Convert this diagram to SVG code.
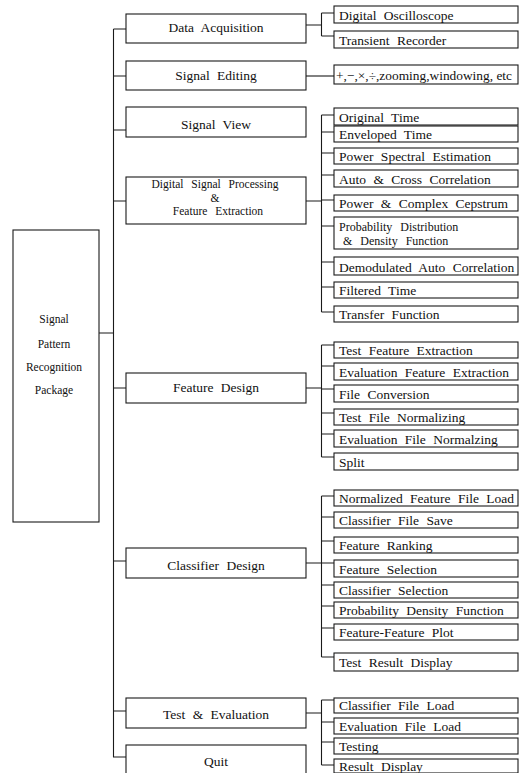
<svg xmlns="http://www.w3.org/2000/svg" width="523" height="773" viewBox="0 0 523 773">
<style>
rect{fill:#fff;stroke:#1a1a1a;stroke-width:1.1}
text{font-family:"Liberation Serif","Times New Roman",serif;fill:#111;font-size:13.5px;word-spacing:4px}
.m{text-anchor:middle}
.l{font-size:11.5px;word-spacing:0}
.s{font-size:11.5px;word-spacing:5px}
.p{font-size:12px;word-spacing:5px}
#connectors path{fill:none;stroke:#1a1a1a;stroke-width:1.1}
</style>
<rect width="523" height="773" style="fill:#fff;stroke:none"/>
<g id="connectors">
<path d="M113.5,29V757H126M113.5,29H126M113.5,76H126M113.5,130H126M113.5,201H126M113.5,388H126M113.5,561H126M113.5,711H126M99,333H113.5"/>
<path d="M306,25H321.5M321.5,13V36M321.5,13H334M321.5,36H334"/>
<path d="M306,76H334"/>
<path d="M306,201H321.5M321.5,115V312M321.5,115H334M321.5,132H334M321.5,153H334M321.5,175H334M321.5,200H334M321.5,226H334M321.5,262H334M321.5,287H334M321.5,312H334"/>
<path d="M306,388H321.5M321.5,345V457M321.5,345H334M321.5,366H334M321.5,389H334M321.5,413H334M321.5,434H334M321.5,457H334"/>
<path d="M306,563H321.5M321.5,496V657M321.5,496H334M321.5,517H334M321.5,541H334M321.5,563H334M321.5,585H334M321.5,606H334M321.5,628H334M321.5,657H334"/>
<path d="M306,713H321.5M321.5,700V765M321.5,700H334M321.5,722H334M321.5,742H334M321.5,765H334"/>
</g>
<g id="root"><rect x="13" y="230" width="86" height="292"/>
<text class="m l" x="54" y="323">Signal</text><text class="m l" x="54" y="348">Pattern</text><text class="m l" x="54" y="371">Recognition</text><text class="m l" x="54" y="394">Package</text></g>
<g id="data-acquisition"><rect x="126" y="14" width="180" height="29"/><text class="m" x="216" y="32">Data Acquisition</text></g>
<g id="signal-editing"><rect x="126" y="61" width="180" height="29"/><text class="m" x="216" y="80">Signal Editing</text></g>
<g id="signal-view"><rect x="126" y="107" width="180" height="30"/><text class="m" x="216" y="129">Signal View</text></g>
<g id="dsp"><rect x="126" y="177" width="180" height="47"/><text class="m s" x="215" y="188">Digital Signal Processing</text><text class="m s" x="215" y="201.5">&amp;</text><text class="m s" x="218" y="215">Feature Extraction</text></g>
<g id="feature-design"><rect x="126" y="373" width="180" height="30"/><text class="m" x="216" y="392">Feature Design</text></g>
<g id="classifier-design"><rect x="126" y="548" width="180" height="30"/><text class="m" x="216" y="570">Classifier Design</text></g>
<g id="test-evaluation"><rect x="126" y="698" width="180" height="30"/><text class="m" x="216" y="719">Test &amp; Evaluation</text></g>
<g id="quit"><rect x="126" y="745" width="180" height="30"/><text class="m" x="216" y="766">Quit</text></g>
<g id="digital-oscilloscope"><rect x="334" y="6" width="184" height="17"/><text x="339" y="20">Digital Oscilloscope</text></g>
<g id="transient-recorder"><rect x="334" y="31" width="184" height="17"/><text x="339" y="45">Transient Recorder</text></g>
<g id="edit-ops"><rect x="334" y="65" width="184" height="19"/><text x="336" y="80" textLength="176" lengthAdjust="spacingAndGlyphs" style="word-spacing:0">+,−,×,÷,zooming,windowing, etc</text></g>
<g id="original-time"><rect x="334" y="108" width="184" height="17"/><text x="339" y="122">Original Time</text></g>
<g id="enveloped-time"><rect x="334" y="126" width="184" height="16"/><text x="339" y="139">Enveloped Time</text></g>
<g id="power-spectral"><rect x="334" y="148" width="184" height="16"/><text x="339" y="161">Power Spectral Estimation</text></g>
<g id="auto-cross"><rect x="334" y="170" width="184" height="17"/><text x="339" y="184">Auto &amp; Cross Correlation</text></g>
<g id="cepstrum"><rect x="334" y="195" width="184" height="16"/><text x="339" y="208">Power &amp; Complex Cepstrum</text></g>
<g id="probability-distribution"><rect x="334" y="217" width="184" height="32"/><text class="p" x="339" y="231">Probability Distribution</text><text class="p" x="343" y="245">&amp; Density Function</text></g>
<g id="demodulated"><rect x="334" y="257" width="184" height="18"/><text x="339" y="272">Demodulated Auto Correlation</text></g>
<g id="filtered-time"><rect x="334" y="282" width="184" height="16"/><text x="339" y="295">Filtered Time</text></g>
<g id="transfer-function"><rect x="334" y="306" width="184" height="16"/><text x="339" y="319">Transfer Function</text></g>
<g id="test-feature-extraction"><rect x="334" y="342" width="184" height="16"/><text x="339" y="355">Test Feature Extraction</text></g>
<g id="evaluation-feature-extraction"><rect x="334" y="363" width="184" height="17"/><text x="339" y="377">Evaluation Feature Extraction</text></g>
<g id="file-conversion"><rect x="334" y="385" width="184" height="17"/><text x="339" y="399">File Conversion</text></g>
<g id="test-file-normalizing"><rect x="334" y="409" width="184" height="16"/><text x="339" y="422">Test File Normalizing</text></g>
<g id="evaluation-file-normalzing"><rect x="334" y="430" width="184" height="17"/><text x="339" y="444">Evaluation File Normalzing</text></g>
<g id="split"><rect x="334" y="453" width="184" height="17"/><text x="339" y="467">Split</text></g>
<g id="normalized-feature-file-load"><rect x="334" y="490" width="184" height="16"/><text x="339" y="503">Normalized Feature File Load</text></g>
<g id="classifier-file-save"><rect x="334" y="512" width="184" height="16"/><text x="339" y="525">Classifier File Save</text></g>
<g id="feature-ranking"><rect x="334" y="537" width="184" height="16"/><text x="339" y="550">Feature Ranking</text></g>
<g id="feature-selection"><rect x="334" y="560" width="184" height="17"/><text x="339" y="574">Feature Selection</text></g>
<g id="classifier-selection"><rect x="334" y="582" width="184" height="16"/><text x="339" y="595">Classifier Selection</text></g>
<g id="probability-density-function"><rect x="334" y="602" width="184" height="16"/><text x="339" y="615">Probability Density Function</text></g>
<g id="feature-feature-plot"><rect x="334" y="624" width="184" height="16"/><text x="339" y="637">Feature-Feature Plot</text></g>
<g id="test-result-display"><rect x="334" y="653" width="184" height="18"/><text x="339" y="667">Test Result Display</text></g>
<g id="classifier-file-load"><rect x="334" y="698" width="184" height="15"/><text x="339" y="710">Classifier File Load</text></g>
<g id="evaluation-file-load"><rect x="334" y="718" width="184" height="16"/><text x="339" y="731">Evaluation File Load</text></g>
<g id="testing"><rect x="334" y="738" width="184" height="16"/><text x="339" y="751">Testing</text></g>
<g id="result-display"><rect x="334" y="759" width="184" height="14"/><text x="339" y="771">Result Display</text></g>
</svg>
